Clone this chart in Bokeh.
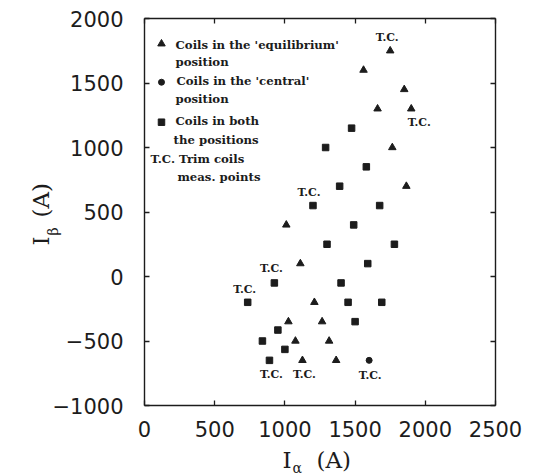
import math
from bokeh.plotting import figure
from bokeh.models import Range1d, LinearAxis, FixedTicker, ColumnDataSource
from bokeh.core.properties import value
from bokeh.embed import file_html
from bokeh.resources import INLINE

# ---- data -------------------------------------------------------------
# coils in the 'equilibrium' position (triangles)
eq_x = [1750, 1560, 1850, 1660, 1900, 1765, 1865, 1010, 1110, 1210, 1025, 1265, 1075, 1315, 1125, 1365]
eq_y = [1750, 1600, 1450, 1300, 1300, 1000, 700, 400, 100, -200, -350, -350, -500, -500, -650, -650]
# coils in the 'central' position (circles)
ce_x = [1600]
ce_y = [-650]
# coils in both positions (squares)
bo_x = [1475, 1290, 1580, 1390, 1200, 1675, 1490, 1300, 1780, 1590, 925, 1400,
        735, 1450, 1690, 1500, 950, 840, 1000, 890]
bo_y = [1150, 1000, 850, 700, 550, 550, 400, 250, 250, 100, -50, -50,
        -200, -200, -200, -350, -415, -500, -565, -650]
# trim coil measurement points (T.C. labels)
tc_x = [1750, 1900, 1200, 925, 735, 890, 1125, 1600]
tc_y = [1750, 1300, 550, -50, -200, -650, -650, -650]
tc_text = ["T.C."] * 8

x_lim = (0, 2500)
y_lim = (-1000, 2000)
x_ticks = [0, 500, 1000, 1500, 2000, 2500]
y_ticks = [-1000, -500, 0, 500, 1000, 1500, 2000]
y_tick_labels = ["\u22121000", "\u2212500", "0", "500", "1000", "1500", "2000"]

legend_text = ["Coils in the 'equilibrium'", "position", "Coils in the 'central'", "position",
               "Coils in both", "the positions", "T.C. Trim coils", "meas. points"]

# ---- layout / style (not data) ----------------------------------------
W, H = 538, 475
FL, FR, FT, FB = 144, 495, 18, 405          # plotting box in canvas pixels
ux = (x_lim[1] - x_lim[0]) / (FR - FL)
uy = (y_lim[1] - y_lim[0]) / (FB - FT)
x_range = Range1d(x_lim[0] - FL * ux, x_lim[1] + (W - FR) * ux)
y_range = Range1d(y_lim[0] - (H - FB) * uy, y_lim[1] + FT * uy)

tc_dx = [-3, 8, -4, -3, -3, 2, 2, 1]
tc_dy = [-13, 14, -13, -14, -13, 14, 14, 15]
legend_tx = [221, 221, 228, 221, 221, 207, 43, 235]
legend_ty = [1798, 1659, 1512, 1376, 1209, 1062, 907, 775]
legend_mx = 121
legend_my = [1804, 1506, 1196]

INK = "#1c1c1c"
SERIF = value("DejaVu Serif")

p = figure(width=W, height=H, x_range=x_range, y_range=y_range,
           x_axis_location=None, y_axis_location=None,
           output_backend="svg", toolbar_location=None, min_border=0)
p.grid.visible = False
p.outline_line_color = None
p.background_fill_color = "white"
p.border_fill_color = "white"

def make_axis(ticks, fixed, bounds, labels):
    ax = LinearAxis(fixed_location=fixed, bounds=bounds)
    ax.ticker = FixedTicker(ticks=ticks)
    ax.axis_line_color = INK
    ax.axis_line_width = 1.4
    ax.major_tick_line_color = INK
    ax.major_tick_line_width = 1.3
    ax.major_tick_in = 5
    ax.major_tick_out = 0
    ax.minor_tick_line_color = None
    ax.major_label_text_font = "DejaVu Sans"
    ax.major_label_text_font_size = "21px"
    ax.major_label_text_color = INK if labels else None
    return ax

xb = make_axis(x_ticks, y_lim[0], x_lim, True)
xb.major_label_standoff = 15
p.add_layout(xb, "below")
yl = make_axis(y_ticks, x_lim[0], y_lim, True)
yl.major_label_standoff = 21
yl.major_label_overrides = dict(zip(y_ticks, y_tick_labels))
p.add_layout(yl, "left")
p.add_layout(make_axis(x_ticks, y_lim[1], x_lim, False), "above")
p.add_layout(make_axis(y_ticks, x_lim[1], y_lim, False), "right")

# ---- points -----------------------------------------------------------
p.scatter(eq_x, eq_y, marker="triangle", size=7.5, color=INK)
p.scatter(ce_x, ce_y, marker="circle", size=6, color=INK)
p.scatter(bo_x, bo_y, marker="square", size=6.5, color=INK)

tc_src = ColumnDataSource(dict(x=tc_x, y=tc_y, t=tc_text, dx=tc_dx, dy=tc_dy))
p.text(x="x", y="y", text="t", x_offset="dx", y_offset="dy", source=tc_src,
       text_font=SERIF, text_font_style="bold", text_font_size="11px",
       text_align="center", text_baseline="middle", text_color=INK)

# ---- legend -----------------------------------------------------------
p.scatter([legend_mx], [legend_my[0]], marker="triangle", size=7.5, color=INK)
p.scatter([legend_mx], [legend_my[1]], marker="circle", size=6, color=INK)
p.scatter([legend_mx], [legend_my[2]], marker="square", size=6.5, color=INK)
p.text(x=legend_tx, y=legend_ty, text=legend_text,
       text_font=SERIF, text_font_style="bold", text_font_size="11.7px",
       text_align="left", text_baseline="middle", text_color=INK)

# ---- axis titles ------------------------------------------------------
def title_part(x, y, t, size, angle=0.0):
    p.text(x=[x], y=[y], text=[t], text_font=SERIF, text_font_size=size,
           text_color=INK, text_align="left", text_baseline="alphabetic", angle=angle)

title_part(983, -1426, "I", "23px")
title_part(1054, -1481, "\u03b1", "14px")
title_part(1225, -1426, "(A)", "23px")

title_part(-734, 240, "I", "23px", math.pi / 2)
title_part(-655, 318, "\u03b2", "14px", math.pi / 2)
title_part(-734, 457, "(A)", "23px", math.pi / 2)

open("out.html", "w").write(file_html(p, INLINE))
